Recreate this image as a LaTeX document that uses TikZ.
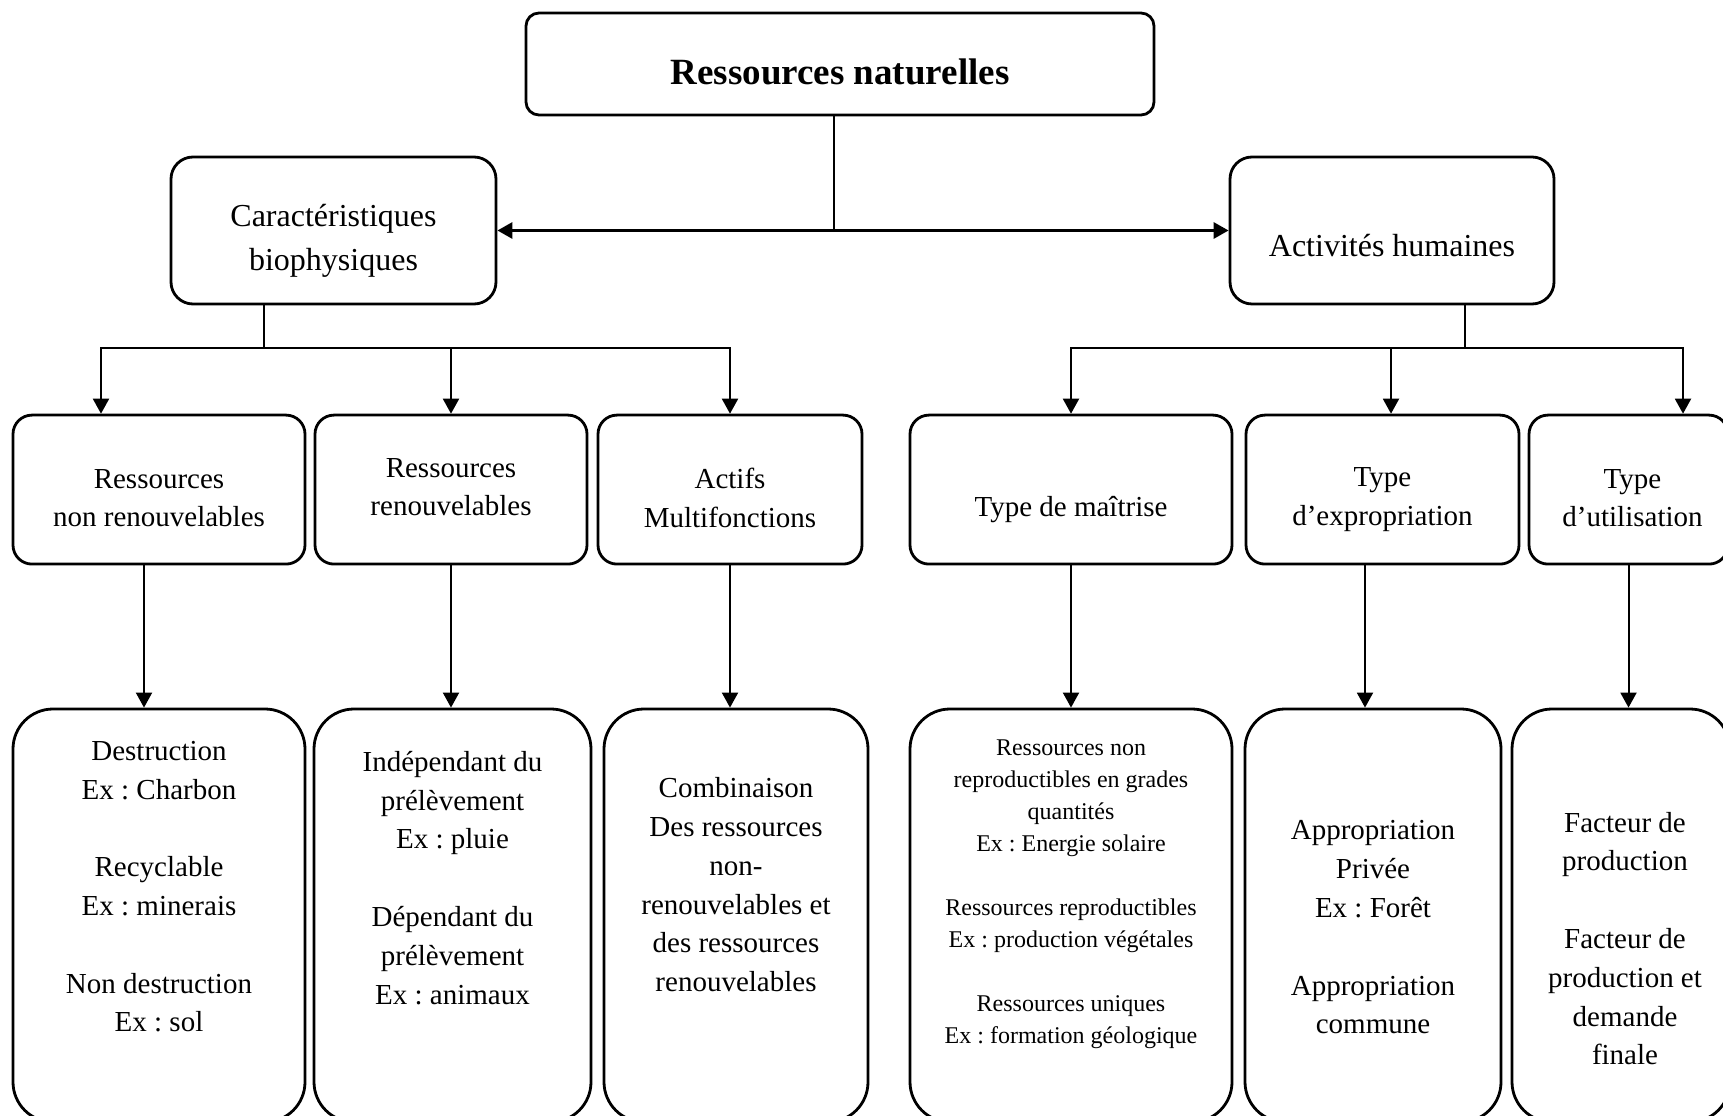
\documentclass[tikz,border=0pt]{standalone}
\usepackage{fontspec}
\setmainfont{Liberation Serif}
\usetikzlibrary{arrows.meta}
\frenchspacing

\begin{document}
\begin{tikzpicture}[
    x=1pt, y=1pt,
    >={Triangle[length=7.5pt, width=8pt]},
    boxline/.style={draw, line width=1.4pt},
    root/.style={boxline, rounded corners=6.5pt, minimum width=314pt, minimum height=51pt},
    branch/.style={boxline, rounded corners=11pt, minimum height=73.5pt},
    box/.style={boxline, rounded corners=9.5pt, minimum height=74.5pt},
    leaf/.style={boxline, rounded corners=20pt, minimum height=206.5pt},
    title/.style={align=center, font=\fontsize{18.5}{22}\selectfont\bfseries},
    mid/.style={align=center, font=\fontsize{16}{22}\selectfont},
    txt/.style={align=center, font=\fontsize{14.5}{19.4}\selectfont},
    small/.style={align=center, font=\fontsize{12}{16}\selectfont},
    link/.style={line width=1pt}
]
  \useasboundingbox (0,0) rectangle (861.5,557.5);

  % --- TOP ---
  \node[root, label={[title, yshift=-3.7pt]center:{Ressources naturelles}}] (top) at (420,525.5) {};

  % --- SECOND LEVEL ---
  \node[branch, minimum width=162.5pt, label={[mid, yshift=-5pt]center:{Caractéristiques\\biophysiques}}] (car) at (166.75,442.25) {};
  \node[branch, minimum width=162pt, label={[mid, yshift=-7.6pt]center:{Activités humaines}}] (act) at (696,442.25) {};

  % --- THIRD LEVEL ---
  \node[box, minimum width=146pt, label={[txt, yshift=-4.3pt]center:{Ressources\\non renouvelables}}] (nren) at (79.5,312.7) {};
  \node[box, minimum width=136pt, label={[txt, yshift=1.2pt]center:{Ressources\\renouvelables}}] (ren) at (225.5,312.7) {};
  \node[box, minimum width=132pt, label={[txt, yshift=-4.3pt]center:{Actifs\\Multifonctions}}] (actif) at (365,312.7) {};
  \node[box, minimum width=161pt, label={[txt, yshift=-10pt]center:{Type de maîtrise}}] (maitr) at (535.5,312.7) {};
  \node[box, minimum width=136.5pt, label={[txt, yshift=-5pt]center:{Type\\d’expropriation}}] (expro) at (691.25,312.7) {};
  \node[box, minimum width=99.5pt, label={[txt, xshift=2pt, yshift=-4.3pt]center:{Type\\d’utilisation}}] (util) at (814.25,312.7) {};

  % --- BOTTOM LEVEL ---
  \node[leaf, minimum width=146pt, label={[txt, yshift=14.4pt]center:{Destruction\\Ex : Charbon\\[19.4pt]Recyclable\\Ex : minerais\\[19.4pt]Non destruction\\Ex : sol}}] (nren2) at (79.5,99.75) {};
  \node[leaf, minimum width=138.5pt, label={[txt, yshift=18.8pt]center:{Indépendant du\\prélèvement\\Ex : pluie\\[19.4pt]Dépendant du\\prélèvement\\Ex : animaux}}] (ren2) at (226.25,99.75) {};
  \node[leaf, minimum width=132pt, label={[txt, yshift=15.4pt]center:{Combinaison\\Des ressources\\non-\\renouvelables et\\des ressources\\renouvelables}}] (actif2) at (368,99.75) {};
  \node[leaf, minimum width=161pt, label={[small, yshift=10.7pt]center:{Ressources non\\reproductibles en grades\\quantités\\Ex : Energie solaire\\[16pt]Ressources reproductibles\\Ex : production végétales\\[16pt]Ressources uniques\\Ex : formation géologique}}] (maitr2) at (535.5,99.75) {};
  \node[leaf, minimum width=128pt, label={[txt, yshift=-6pt]center:{Appropriation\\Privée\\Ex : Forêt\\[19.4pt]Appropriation\\commune}}] (expro2) at (686.5,99.75) {};
  \node[leaf, minimum width=109pt, label={[txt, xshift=2pt, yshift=-11.5pt]center:{Facteur de\\production\\[19.4pt]Facteur de\\production et\\demande\\finale}}] (util2) at (810.5,99.75) {};

  % --- DRAWING CONNECTORS ---

  % Top split
  \draw[link] ([xshift=-3pt]top.south) -- ([xshift=-3pt]top.south |- car.east);
  \draw[link, line width=1.5pt, <->] (car.east) -- (act.west);

  % Left bracket
  \coordinate (lbar) at (132,383.5);
  \draw[link] (car.south -| lbar) -- (lbar);
  \draw[link, ->] (lbar) -| ([xshift=-29pt]nren.north);
  \draw[link, ->] (lbar) -| (actif.north);
  \draw[link, ->] (ren.north |- lbar) -- (ren.north);

  % Right bracket
  \coordinate (rbar) at (732.5,383.5);
  \draw[link] (act.south -| rbar) -- (rbar);
  \draw[link, ->] (rbar) -| (maitr.north);
  \draw[link, ->] (rbar) -| ([xshift=27.25pt]util.north);
  \draw[link, ->] ([xshift=4.25pt]expro.north |- rbar) -- ([xshift=4.25pt]expro.north);

  % Down to the bottom boxes
  \draw[link, ->] ([xshift=-7.5pt]nren.south) -- ([xshift=-7.5pt]nren.south |- nren2.north);
  \draw[link, ->] (ren.south) -- (ren.south |- ren2.north);
  \draw[link, ->] (actif.south) -- (actif.south |- actif2.north);
  \draw[link, ->] (maitr.south) -- (maitr2.north);
  \draw[link, ->] ([xshift=-8.75pt]expro.south) -- ([xshift=-8.75pt]expro.south |- expro2.north);
  \draw[link, ->] (util.south) -- (util.south |- util2.north);

\end{tikzpicture}
\end{document}
